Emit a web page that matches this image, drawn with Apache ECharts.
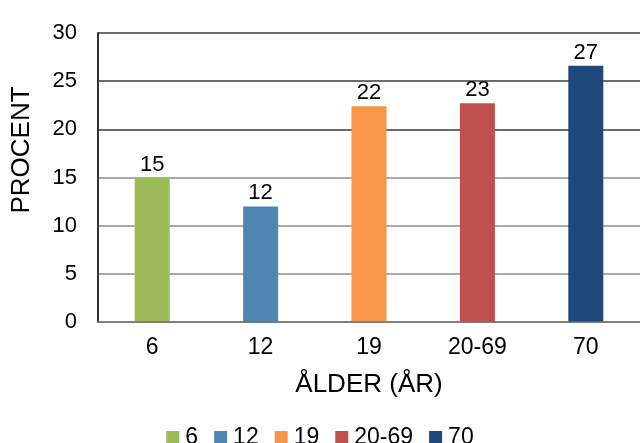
<!DOCTYPE html>
<html>
<head>
<meta charset="utf-8">
<script src="https://cdn.jsdelivr.net/npm/echarts@6/dist/echarts.min.js"></script>
<style>
  html, body { margin: 0; padding: 0; background: #fff; }
  #chart { width: 640px; height: 443px; }
</style>
</head>
<body>
<div id="chart"></div>
<script>
// Age groups (years) and share in percent
const categories = ['6', '12', '19', '20-69', '70'];
const values = [15, 12, 22.4, 22.7, 26.6];
const colors = ['#9BBB59', '#5087B2', '#F79646', '#C0504D', '#1F497D'];
const yTicks = { min: 0, max: 30, interval: 5 };

const FONT = '"Liberation Sans", Arial, sans-serif';

// One series per age group so each gets its own legend entry;
// stacking keeps every bar centred on its own category.
const series = categories.map((name, i) => ({
  name: name,
  type: 'bar',
  stack: 'all',
  barWidth: 35,
  itemStyle: { color: colors[i] },
  label: {
    show: true,
    position: 'top',
    distance: 2,
    color: '#000',
    fontFamily: FONT,
    fontSize: 22,
    formatter: p => Math.round(p.value)
  },
  data: categories.map((c, j) => (j === i ? values[i] : null))
}));

const chart = echarts.init(document.getElementById('chart'), null, { renderer: 'canvas' });
chart.setOption({
  animation: false,
  textStyle: { fontFamily: FONT },
  grid: { left: 98, right: -2, top: 33, bottom: 121, containLabel: false },
  legend: {
    data: categories,
    top: 421,
    left: 'center',
    itemWidth: 13,
    itemHeight: 13,
    itemGap: 16,
    icon: 'rect',
    textStyle: { fontSize: 23, color: '#000', fontFamily: FONT, padding: [0, 0, 0, 1] }
  },
  xAxis: {
    type: 'category',
    data: categories,
    name: 'ÅLDER (ÅR)',
    nameLocation: 'middle',
    nameGap: 50,
    nameTextStyle: { fontSize: 26, color: '#000', fontFamily: FONT },
    axisTick: { show: false },
    axisLine: { lineStyle: { color: 'rgba(110,110,110,0.7)', width: 2 } },
    axisLabel: { fontSize: 23, color: '#000', margin: 14, fontFamily: FONT },
    z: 5
  },
  yAxis: {
    type: 'value',
    min: yTicks.min,
    max: yTicks.max,
    interval: yTicks.interval,
    axisLine: { show: true, lineStyle: { color: '#333', width: 2 } },
    axisTick: { show: false },
    axisLabel: { fontSize: 22, color: '#000', margin: 21, fontFamily: FONT },
    splitLine: {
      show: true,
      lineStyle: {
        color: ['#8c8c8c', '#8c8c8c', '#8c8c8c', '#8c8c8c', '#3a3a3a', '#3a3a3a', '#3a3a3a'],
        width: 1.5
      }
    }
  },
  graphic: [{
    type: 'text',
    rotation: Math.PI / 2,
    x: 22,
    y: 150,
    style: {
      text: 'PROCENT',
      fontSize: 26,
      fontFamily: FONT,
      fill: '#000',
      align: 'center',
      verticalAlign: 'middle'
    }
  }],
  series: series
});
</script>
</body>
</html>
